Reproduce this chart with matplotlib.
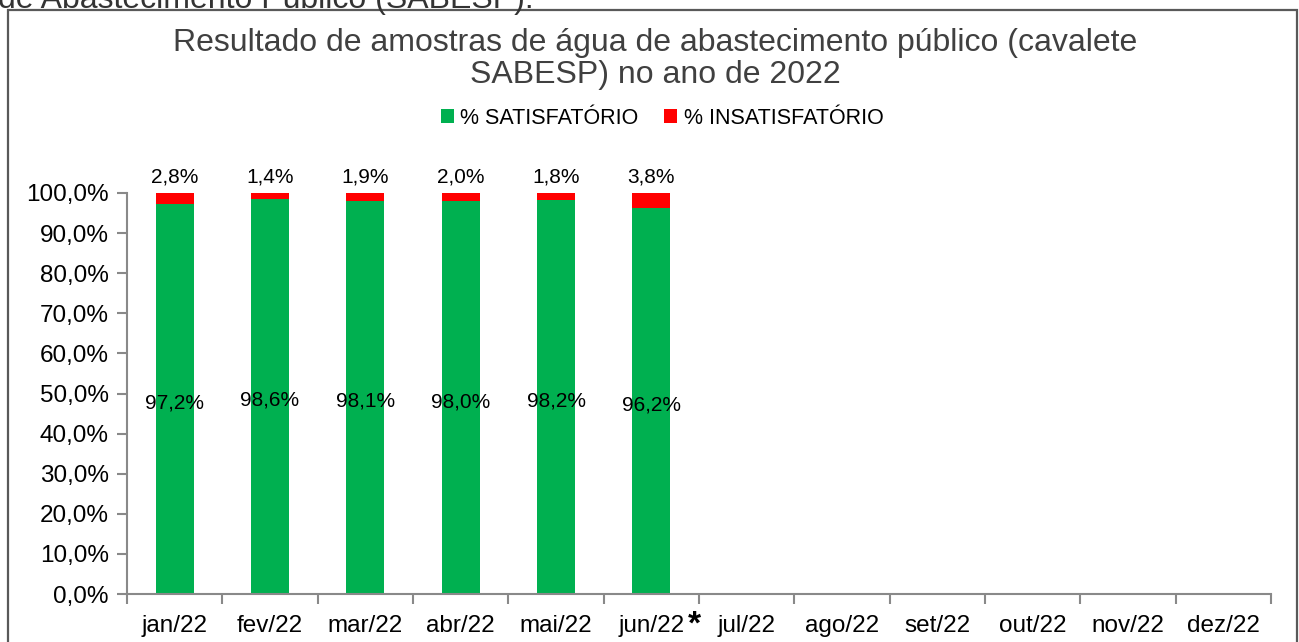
import numpy as np
import matplotlib.pyplot as plt
from matplotlib.patches import Rectangle
from matplotlib.ticker import FuncFormatter, FixedLocator

plt.rcParams.update({
    "font.family": ["Liberation Sans", "DejaVu Sans"],
    "font.size": 13,
})

# =====================
# Data
# =====================
months = ["jan/22", "fev/22", "mar/22", "abr/22", "mai/22", "jun/22",
          "jul/22", "ago/22", "set/22", "out/22", "nov/22", "dez/22"]
satisf = [97.2, 98.6, 98.1, 98.0, 98.2, 96.2]
insatisf = [2.8, 1.4, 1.9, 2.0, 1.8, 3.8]

GREEN = "#00b050"
RED = "#ff0000"
AXIS = "#898989"

fig = plt.figure(figsize=(12.99, 6.42), dpi=100)
ax = fig.add_axes([127 / 1299, 48 / 642, (1271 - 127) / 1299, (594 - 193) / 642])

x = np.arange(len(satisf))
sat = np.array(satisf) / 100
ins = np.array(insatisf) / 100

ax.bar(x, sat, width=0.4, color=GREEN, label="% SATISFATÓRIO")
ax.bar(x, ins, width=0.4, bottom=sat, color=RED, label="% INSATISFATÓRIO")

for xi, s, i in zip(x, satisf, insatisf):
    ax.annotate(f"{s:.1f}%".replace(".", ","), (xi, s / 200), xytext=(0, -3),
                textcoords="offset points", ha="center", va="center", fontsize=15)
    ax.annotate(f"{i:.1f}%".replace(".", ","), (xi, 1.0), xytext=(0, 5),
                textcoords="offset points", ha="center", va="bottom", fontsize=15)

ax.set_xlim(-0.5, len(months) - 0.5)
ax.set_ylim(0, 1.0)
ax.yaxis.set_major_locator(FixedLocator(np.linspace(0, 1, 11)))
ax.yaxis.set_major_formatter(FuncFormatter(lambda v, p: f"{v * 100:.1f}%".replace(".", ",")))

ax.set_xticks(np.arange(len(months)))
ax.set_xticklabels(months)
ax.set_xticks(np.arange(len(months) + 1) - 0.5, minor=True)
ax.tick_params(axis="x", which="major", length=0, pad=15, labelsize=17.5)
ax.tick_params(axis="x", which="minor", length=7, color=AXIS, width=1.5)
ax.tick_params(axis="y", length=7, color=AXIS, width=1.5, labelsize=17.5, pad=6)

for s in ["top", "right"]:
    ax.spines[s].set_visible(False)
for s in ["left", "bottom"]:
    ax.spines[s].set_color(AXIS)
    ax.spines[s].set_linewidth(1.5)

# asterisk next to jun/22
ax.text(5.45, -0.078, "*", transform=ax.get_xaxis_transform(), ha="center",
        va="center", fontsize=24, fontweight="bold")

ax.legend(loc="center", bbox_to_anchor=(662 / 1299, 1 - 118 / 642),
          bbox_transform=fig.transFigure, ncol=2, frameon=False, fontsize=15.5,
          handlelength=0.6, handleheight=0.6, handletextpad=0.3, columnspacing=1.2)

fig.text(655 / 1299, 1 - 59 / 642,
         "Resultado de amostras de água de abastecimento público (cavalete\nSABESP) no ano de 2022",
         ha="center", va="center", fontsize=23, color="#404040", linespacing=1.1)

# outer chart frame and cut-off caption above it
fig.patches.append(Rectangle((8 / 1299, -0.05), 1289 / 1299, 1.05 - 10 / 642,
                             transform=fig.transFigure, fill=False,
                             edgecolor="#595959", linewidth=1.6))
fig.text(-2 / 1299, 1 - 8 / 642, "de Abastecimento Público (SABESP).",
         ha="left", va="baseline", fontsize=23, color="#333333")

fig.savefig("out.png", dpi=100)
